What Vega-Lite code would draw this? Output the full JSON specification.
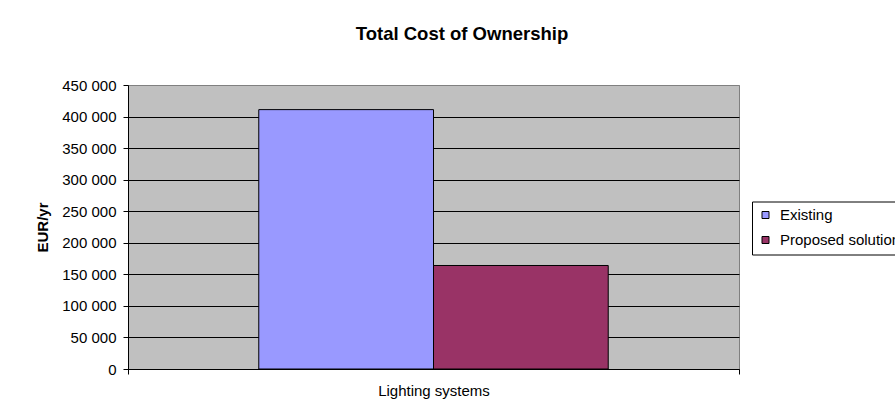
{
  "$schema": "https://vega.github.io/schema/vega-lite/v6.json",
  "autosize": "none",
  "width": 611,
  "height": 284,
  "padding": {"left": 128, "top": 85, "right": 156, "bottom": 44},
  "background": "white",
  "title": {
    "text": "Total Cost of Ownership",
    "font": "Liberation Sans",
    "fontSize": 18.5,
    "fontWeight": "bold",
    "color": "black",
    "anchor": "middle",
    "offset": 35,
    "dx": 28.5
  },
  "data": {
    "values": [
      {"category": "Lighting systems", "series": "Existing", "value": 411000},
      {"category": "Lighting systems", "series": "Proposed solution", "value": 164000}
    ]
  },
  "mark": {"type": "bar", "stroke": "black", "strokeWidth": 1, "opacity": 1},
  "encoding": {
    "x": {
      "field": "category",
      "type": "nominal",
      "scale": {"paddingInner": 0, "paddingOuter": 0},
      "axis": {
        "title": null,
        "labelAngle": 0,
        "labelFont": "Liberation Sans",
        "labelFontSize": 15,
        "labelColor": "black",
        "labelPadding": 9,
        "domainColor": "black",
        "tickColor": "black",
        "tickSize": 5,
        "tickBand": "extent",
        "grid": false
      }
    },
    "xOffset": {
      "field": "series",
      "type": "nominal",
      "scale": {"paddingInner": 0, "paddingOuter": 0.7485}
    },
    "y": {
      "field": "value",
      "type": "quantitative",
      "scale": {"domain": [0, 450000], "nice": false},
      "axis": {
        "title": "EUR/yr",
        "titleFont": "Liberation Sans",
        "titleFontSize": 15,
        "titleFontWeight": "bold",
        "titleColor": "black",
        "titlePadding": 11,
        "values": [0, 50000, 100000, 150000, 200000, 250000, 300000, 350000, 400000, 450000],
        "labelExpr": "replace(format(datum.value, ','), ',', ' ')",
        "labelFont": "Liberation Sans",
        "labelFontSize": 15,
        "labelColor": "black",
        "labelPadding": 7,
        "tickSize": 5,
        "tickColor": "black",
        "domainColor": "black",
        "grid": true,
        "gridColor": {"condition": {"test": "datum.value >= 450000", "value": "#808080"}, "value": "black"},
        "gridOpacity": 1,
        "gridWidth": 1
      }
    },
    "color": {
      "field": "series",
      "type": "nominal",
      "scale": {"domain": ["Existing", "Proposed solution"], "range": ["#9999FF", "#993366"]},
      "legend": {
        "title": null,
        "orient": "none",
        "legendX": 624,
        "legendY": 116.5,
        "direction": "vertical",
        "strokeColor": "black",
        "fillColor": "white",
        "padding": 6,
        "rowPadding": 9,
        "symbolType": "square",
        "symbolSize": 49,
        "symbolStrokeColor": "black",
        "symbolStrokeWidth": 1,
        "symbolOpacity": 1,
        "labelFont": "Liberation Sans",
        "labelFontSize": 15,
        "labelColor": "black",
        "labelOffset": 7,
        "labelLimit": 300
      }
    }
  },
  "config": {
    "view": {"fill": "#C0C0C0", "stroke": "#808080", "strokeWidth": 1}
  }
}
